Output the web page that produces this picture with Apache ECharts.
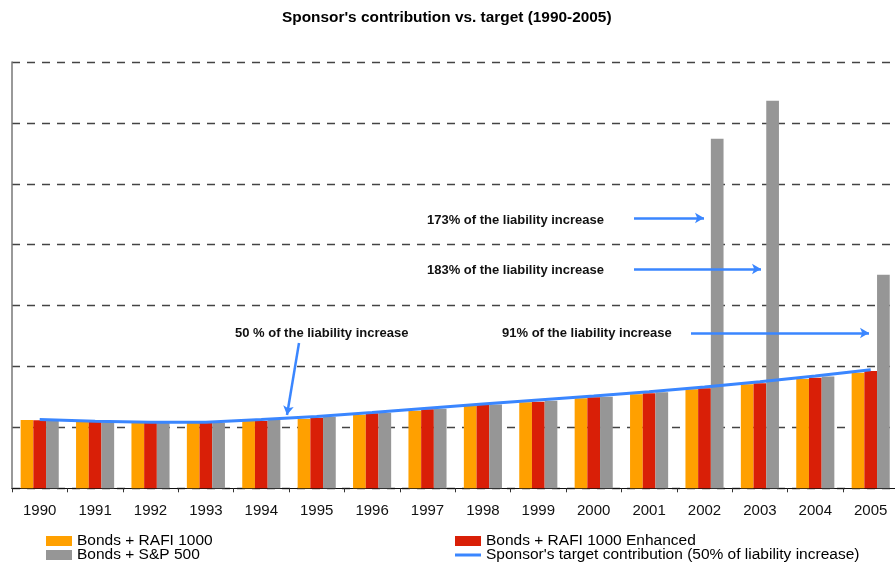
<!DOCTYPE html>
<html>
<head>
<meta charset="utf-8">
<script src="https://cdn.jsdelivr.net/npm/echarts@6/dist/echarts.min.js"></script>
<style>
  html, body { margin: 0; padding: 0; background: #fff; }
  #chart { width: 895px; height: 567px; }
</style>
</head>
<body>
<div id="chart"></div>
<script>
var years = ['1990', '1991', '1992', '1993', '1994', '1995', '1996', '1997', '1998', '1999', '2000', '2001', '2002', '2003', '2004', '2005']
var rafi1000 = [1.122, 1.094, 1.078, 1.078, 1.106, 1.139, 1.209, 1.275, 1.352, 1.413, 1.479, 1.545, 1.627, 1.709, 1.796, 1.899]
var rafiEnhanced = [1.117, 1.094, 1.073, 1.073, 1.106, 1.160, 1.232, 1.298, 1.369, 1.423, 1.495, 1.561, 1.643, 1.725, 1.817, 1.927]
var sp500 = [1.111, 1.084, 1.073, 1.078, 1.122, 1.176, 1.242, 1.308, 1.374, 1.439, 1.505, 1.577, 5.739, 6.364, 1.834, 3.505]
var target = [1.13, 1.10, 1.085, 1.085, 1.13, 1.18, 1.245, 1.315, 1.385, 1.45, 1.515, 1.585, 1.665, 1.75, 1.845, 1.945]

var fontFamily = 'Liberation Sans, Arial, Helvetica, sans-serif'
var blue = '#3a86ff'
var nameRafi = 'Bonds + RAFI 1000'
var nameEnh = 'Bonds + RAFI 1000 Enhanced'
var nameSp = 'Bonds + S&P 500'
var nameTarget = "Sponsor's target contribution (50% of liability increase)"

// annotation arrows (pixel positions, not data)
var arrows = [
  [{ x: 634, y: 218 }, { x: 704, y: 218 }],
  [{ x: 634, y: 269 }, { x: 761, y: 269 }],
  [{ x: 691, y: 333 }, { x: 869, y: 333 }],
  [{ x: 299, y: 343 }, { x: 287, y: 415 }]
]
var notes = [
  { text: '173% of the liability increase', x: 427, y: 220 },
  { text: '183% of the liability increase', x: 427, y: 270 },
  { text: '91% of the liability increase', x: 502, y: 333 },
  { text: '50 % of the liability increase', x: 235, y: 333 }
]

var chart = echarts.init(document.getElementById('chart'), null, { renderer: 'canvas' })

function barSeries(name, data, color) {
  return {
    name: name,
    type: 'bar',
    data: data,
    barWidth: 12.7,
    barGap: '0%',
    itemStyle: { color: color },
    silent: true
  }
}

// one legend per entry so the 2x2 layout is exact
function legendItem(name, left, top, icon, h) {
  return {
    left: left,
    top: top,
    padding: 0,
    itemWidth: 26,
    itemHeight: h,
    icon: icon,
    selectedMode: false,
    data: [name],
    textStyle: { fontSize: 15.5, lineHeight: 14, color: '#000', fontFamily: fontFamily }
  }
}

chart.setOption({
  animation: false,
  textStyle: { fontFamily: fontFamily },
  title: {
    text: "Sponsor's contribution vs. target (1990-2005)",
    left: 277,
    top: 5,
    textStyle: { fontSize: 15.4, fontWeight: 'bold', color: '#000', fontFamily: fontFamily }
  },
  grid: {
    left: 12,
    top: 62,
    width: 886.4,
    height: 426.3,
    outerBoundsMode: 'none',
    containLabel: false
  },
  legend: [
    legendItem(nameRafi, 46, 533, 'rect', 10),
    legendItem(nameSp, 46, 547, 'rect', 10),
    legendItem(nameEnh, 455, 533, 'rect', 10),
    legendItem(nameTarget, 455, 547, 'rect', 3)
  ],
  xAxis: {
    type: 'category',
    data: years,
    boundaryGap: true,
    axisLine: { lineStyle: { color: '#111', width: 1.2 } },
    axisTick: { show: true, length: 4, lineStyle: { color: '#333' } },
    axisLabel: { fontSize: 15, color: '#111', margin: 15, fontFamily: fontFamily }
  },
  yAxis: {
    type: 'value',
    min: 0,
    max: 7,
    interval: 1,
    axisLabel: { show: false },
    axisTick: { show: false },
    axisLine: { show: true, lineStyle: { color: '#777', width: 1.5 } },
    splitLine: { lineStyle: { color: '#444', width: 1.3, type: [8, 7] } }
  },
  series: [
    barSeries(nameRafi, rafi1000, '#ffa000'),
    barSeries(nameEnh, rafiEnhanced, '#d91f07'),
    barSeries(nameSp, sp500, '#969696'),
    {
      name: nameTarget,
      type: 'line',
      data: target,
      symbol: 'none',
      showSymbol: false,
      z: 5,
      silent: true,
      lineStyle: { color: blue, width: 3 },
      itemStyle: { color: blue },
      markLine: {
        silent: true,
        symbol: ['none', 'arrow'],
        symbolSize: [8, 9],
        label: { show: false },
        lineStyle: { color: blue, width: 2.5, type: 'solid' },
        emphasis: { disabled: true },
        data: arrows
      }
    }
  ],
  graphic: notes.map(function(n) {
    return {
      type: 'text',
      x: n.x,
      y: n.y,
      silent: true,
      style: {
        text: n.text,
        font: 'bold 13px ' + fontFamily,
        fill: '#111',
        align: 'left',
        verticalAlign: 'middle',
        textAlign: 'left',
        textVerticalAlign: 'middle'
      }
    }
  })
})
</script>
</body>
</html>
